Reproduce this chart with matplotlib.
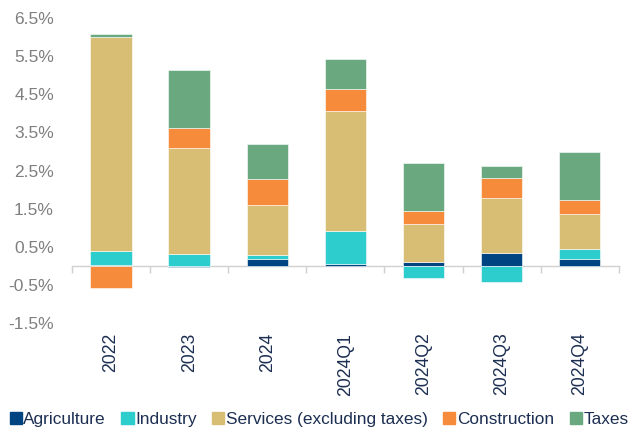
'''Stacked contributions to growth by sector.'''
import matplotlib.pyplot as plt
import numpy as np
from matplotlib.patches import Patch
from matplotlib.ticker import FuncFormatter, FixedLocator

plt.rcParams['font.family'] = ['Liberation Sans', 'DejaVu Sans']

periods = ['2022', '2023', '2024', '2024Q1', '2024Q2', '2024Q3', '2024Q4']
sectors = ['Agriculture', 'Industry', 'Services (excluding taxes)',
           'Construction', 'Taxes']
agriculture = [0.03, -0.03, 0.19, 0.06, 0.10, 0.34, 0.17]
industry = [0.35, 0.30, 0.10, 0.85, -0.33, -0.43, 0.28]
services = [5.62, 2.80, 1.30, 3.16, 0.99, 1.44, 0.91]
construction = [-0.57, 0.53, 0.68, 0.56, 0.35, 0.53, 0.38]
taxes = [0.08, 1.50, 0.93, 0.80, 1.26, 0.32, 1.26]
yticks = [-1.5, -0.5, 0.5, 1.5, 2.5, 3.5, 4.5, 5.5, 6.5]

colors = ['#004481', '#2dcccd', '#d8be75', '#f78b3c', '#6aa97f']
series = [agriculture, industry, services, construction, taxes]

fig = plt.figure(figsize=(6.32, 4.33), dpi=100)
ax = fig.add_axes([0.114, 0.254, 0.865, 0.704])

x = np.arange(len(periods))
pos_bottom = np.zeros(len(periods))
neg_bottom = np.zeros(len(periods))
for vals, col in zip(series, colors):
	vals = np.array(vals)
	bottom = np.where(vals >= 0, pos_bottom, neg_bottom)
	ax.bar(x, vals, bottom=bottom, width=0.53, color=col,
		edgecolor='white', linewidth=0.4, zorder=2)
	pos_bottom += np.clip(vals, 0, None)
	neg_bottom += np.clip(vals, None, 0)

ymin, ymax = yticks[0], yticks[-1]
ax.set_ylim(ymin, ymax)
ax.set_xlim(-0.5, len(periods) - 0.5)
ax.yaxis.set_major_locator(FixedLocator(yticks))
ax.yaxis.set_major_formatter(FuncFormatter(lambda v, p: f'{v:.1f}%'))
ax.tick_params(axis='y', length=0, labelsize=12.5, labelcolor='#7f7f7f', pad=13)

ax.set_xticks(x)
ax.set_xticklabels(periods, rotation=90, va='top', ha='center')
ax.tick_params(axis='x', length=0, labelsize=12.7, labelcolor='#1c2f52', pad=7)
for s in ax.spines.values():
	s.set_visible(False)

# zero line with category separator ticks
zero_ax = ax.secondary_xaxis((0 - ymin) / (ymax - ymin))
zero_ax.set_xticks(np.arange(len(periods) + 1) - 0.5)
zero_ax.tick_params(axis='x', length=5, color='#d0d0d0', direction='out',
	labelbottom=False, labeltop=False, width=1)
zero_ax.spines['bottom'].set_color('#d0d0d0')
zero_ax.spines['bottom'].set_linewidth(1)
for s in ['top', 'left', 'right']:
	zero_ax.spines[s].set_visible(False)

handles = [Patch(color=c, label=n) for c, n in zip(colors, sectors)]
fig.legend(handles=handles, loc='center', bbox_to_anchor=(0.505, 0.032),
	ncol=5, frameon=False, fontsize=12.4, handlelength=0.7, handleheight=0.7,
	handletextpad=0.1, columnspacing=0.9, labelcolor='#1c2f52',
	borderaxespad=0)

fig.savefig('out.png', dpi=100)
